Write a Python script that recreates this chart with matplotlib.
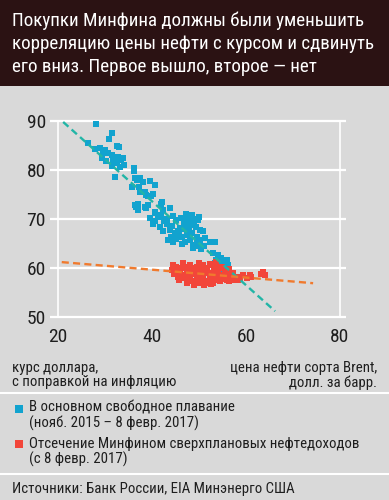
import matplotlib
matplotlib.use("Agg")
import matplotlib.pyplot as plt
from matplotlib.patches import Rectangle

# ---------------- data ----------------
blue_x = [28.0, 31.4, 30.9, 26.4, 32.5, 32.9, 28.9, 27.9, 30.0, 29.5,
          30.7, 31.5, 32.8, 33.9, 29.3, 31.8, 33.5, 30.2, 32.5, 34.0,
          33.2, 31.6, 32.1, 36.2, 36.1, 36.4, 36.9, 37.5, 38.1, 39.6,
          40.6, 35.7, 37.2, 37.4, 38.5, 38.8, 39.2, 39.9, 40.3, 42.1,
          42.0, 36.7, 36.4, 37.1, 37.1, 38.5, 38.8, 39.2, 40.6, 40.6,
          42.4, 43.8, 41.3, 43.1, 44.5, 42.6, 40.6, 40.2, 41.7, 43.1,
          45.2, 46.2, 47.4, 48.8, 49.9, 48.3, 46.8, 44.2, 43.8, 42.4,
          44.9, 46.0, 47.0, 48.1, 49.4, 50.2, 50.9, 45.5, 46.3, 47.4,
          48.5, 49.6, 43.5, 44.5, 45.2, 47.0, 48.1, 50.2, 46.3, 48.8,
          49.9, 52.3, 53.4, 51.0, 48.8, 50.5, 53.0, 54.0, 54.7, 53.7,
          55.9, 55.2, 56.2, 54.5, 53.5, 55.9, 54.5, 55.0, 49.0, 47.8,
          45.8, 44.0, 51.3, 42.0, 39.6, 47.2, 48.5, 50.1, 46.8, 49.5]
blue_y = [89.4, 87.6, 86.4, 85.5, 84.8, 84.6, 84.4, 84.2, 84.1, 83.6,
          83.4, 83.0, 82.7, 82.5, 82.4, 82.0, 82.0, 81.8, 81.5, 81.0,
          80.7, 80.8, 78.6, 80.5, 79.8, 78.3, 78.0, 78.4, 77.6, 77.8,
          76.9, 76.6, 76.5, 75.6, 75.6, 75.0, 74.6, 74.6, 75.2, 73.5,
          73.0, 72.5, 72.9, 71.8, 73.1, 72.5, 72.3, 72.8, 71.5, 71.2,
          71.8, 72.2, 70.5, 70.1, 70.7, 69.6, 69.5, 68.9, 68.4, 69.0,
          69.8, 70.3, 70.1, 70.1, 69.8, 69.5, 69.2, 68.6, 67.8, 67.5,
          67.1, 68.1, 68.4, 68.7, 68.4, 67.8, 67.5, 67.6, 66.4, 66.7,
          67.1, 66.4, 65.7, 65.4, 66.0, 65.4, 65.7, 65.7, 65.0, 64.7,
          64.4, 65.4, 65.4, 64.4, 64.0, 63.8, 63.0, 62.7, 62.0, 61.7,
          61.6, 61.0, 60.6, 60.6, 61.0, 60.0, 60.0, 59.6, 69.0, 67.9,
          66.9, 66.3, 66.2, 70.8, 70.3, 71.0, 70.9, 70.5, 68.0, 65.2]

red_x = [44.5, 44.3, 44.6, 45.2, 46.7, 47.0, 48.0, 49.5, 50.9, 52.3,
         53.0, 53.6, 46.0, 47.4, 48.8, 50.2, 51.6, 53.4, 54.5, 45.6,
         46.7, 48.0, 49.5, 50.9, 52.3, 53.7, 55.2, 56.6, 58.0, 59.4,
         60.8, 63.6, 64.0, 63.2, 47.4, 48.8, 50.2, 51.6, 53.0, 54.5,
         55.9, 57.3, 58.4, 46.0, 45.8, 47.2, 48.5, 49.9, 51.2, 52.6,
         54.0, 55.5, 56.0, 57.0, 58.8, 60.2, 61.0, 47.9, 49.2, 50.6,
         52.0, 53.4, 54.9, 49.0, 51.0, 52.5, 46.5, 48.3, 50.0, 51.8,
         53.2, 55.0, 56.5, 57.2, 45.3, 49.1, 52.8, 54.3, 56.3, 50.5]
red_y = [60.6, 59.6, 58.8, 60.3, 61.1, 60.3, 60.6, 60.3, 60.6, 60.9,
         60.6, 61.2, 59.2, 59.4, 59.2, 59.5, 59.4, 59.5, 59.9, 58.2,
         57.9, 58.2, 57.9, 58.2, 57.9, 58.2, 58.6, 58.6, 58.2, 58.6,
         58.6, 59.2, 58.6, 58.8, 56.9, 57.3, 56.9, 57.3, 56.9, 57.3,
         57.6, 57.6, 57.6, 58.6, 57.5, 58.5, 58.7, 58.8, 58.9, 59.0,
         58.9, 59.2, 58.0, 58.9, 57.9, 58.0, 58.2, 57.6, 57.2, 57.5,
         57.0, 57.5, 57.8, 56.6, 56.5, 56.7, 60.0, 60.0, 61.0, 60.1,
         60.2, 60.3, 59.7, 59.0, 59.5, 59.9, 58.4, 58.4, 57.4, 58.0]

trend_blue_x = [21.1, 66.2]
trend_blue_y = [89.8, 51.2]
trend_red_x = [20.8, 74.3]
trend_red_y = [61.2, 56.9]

x_ticks = [20, 40, 60, 80]
y_ticks = [50, 60, 70, 80, 90]

title = "Покупки Минфина должны были уменьшить\nкорреляцию цены нефти с курсом и сдвинуть\nего вниз. Первое вышло, второе — нет"
xlabel_left = "курс доллара,\nс поправкой на инфляцию"
xlabel_right = "цена нефти сорта Brent,\nдолл. за барр."
legend_labels = ["В основном свободное плавание\n(нояб. 2015 – 8 февр. 2017)",
                 "Отсечение Минфином сверхплановых нефтедоходов\n(с 8 февр. 2017)"]
source = "Источники: Банк России, EIA Минэнерго США"

# ---------------- style ----------------
FONT = ['Roboto Condensed', 'DejaVu Sans']
plt.rcParams['font.family'] = FONT
BG = '#d9d9d9'
DARK = '#2b1213'
TXT = '#1e1e1e'
BLUE = '#12a3cf'
RED = '#f2463a'
BLUE_LINE = '#22b5a6'
RED_LINE = '#f07a2e'
SMALL = 10.7

W, H = 389, 500
fig = plt.figure(figsize=(W / 100, H / 100), dpi=100, facecolor=BG)

def fy(py):
    return 1 - py / H

def fx(px):
    return px / W

# title band
fig.patches.append(Rectangle((0, fy(86)), 1, 1 - fy(86), transform=fig.transFigure,
                             facecolor=DARK, edgecolor='none', zorder=0))
fig.text(fx(12), fy(12), title, color='white', fontsize=13.7, va='top', ha='left',
         linespacing=1.33)

# axes
ax = fig.add_axes([fx(50), fy(319.45), fx(346) - fx(50), fy(118.55) - fy(319.45)])
ax.set_facecolor(BG)
ax.set_xlim(18.3, 81.3)
ax.set_ylim(49.5, 90.5)
for s in ax.spines.values():
    s.set_visible(False)
for yv in y_ticks:
    ax.axhline(yv, color='white', lw=1.6, zorder=1)
ax.vlines([x_ticks[0], x_ticks[-1]], y_ticks[0], y_ticks[-1], color='white', lw=1.2, zorder=1)
ax.set_xticks(x_ticks)
ax.set_yticks(y_ticks)
ax.tick_params(length=0, labelsize=14, colors=TXT)
ax.tick_params(axis='y', pad=3)
ax.tick_params(axis='x', pad=6)

ax.scatter(blue_x, blue_y, marker='s', s=19, color=BLUE, linewidths=0, zorder=3)
ax.scatter(red_x, red_y, marker='s', s=19, color=RED, linewidths=0, zorder=3)
ax.plot(trend_blue_x, trend_blue_y, color=BLUE_LINE, lw=1.7, ls=(0, (3, 1.8)), zorder=4)
ax.plot(trend_red_x, trend_red_y, color=RED_LINE, lw=1.7, ls=(0, (3, 1.8)), zorder=4)

# axis labels
fig.text(fx(12), fy(361), xlabel_left, color=TXT, fontsize=SMALL, va='top', ha='left', linespacing=1.0)
fig.text(fx(377), fy(361), xlabel_right, color=TXT, fontsize=SMALL, va='top', ha='right',
         linespacing=1.0, multialignment='right')

# separators
for py in (392.5, 473.5):
    fig.add_artist(plt.Line2D([0, 1], [fy(py), fy(py)], transform=fig.transFigure,
                              color='white', lw=1.5))

# legend
for col, lab, ty, sy in ((BLUE, legend_labels[0], 401, 405), (RED, legend_labels[1], 437, 440)):
    fig.patches.append(Rectangle((fx(15), fy(sy + 8)), fx(8), fy(0) - fy(8),
                                 transform=fig.transFigure, facecolor=col, edgecolor='none'))
    fig.text(fx(29), fy(ty), lab, color=TXT, fontsize=SMALL, va='top', ha='left', linespacing=1.03)

fig.text(fx(12), fy(482), source, color=TXT, fontsize=SMALL, va='top', ha='left')

fig.savefig('out.png', dpi=100, facecolor=BG)
